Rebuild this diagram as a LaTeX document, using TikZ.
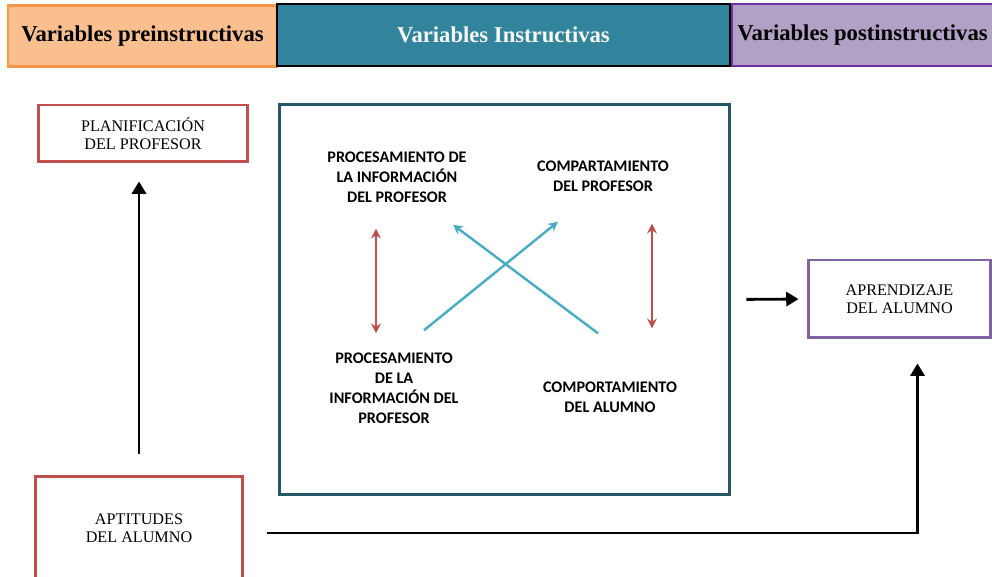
\documentclass[tikz,border=0pt]{standalone}
\usepackage{fontspec}
\setmainfont{Liberation Serif}
\newfontfamily\calib{Carlito}
\usetikzlibrary{positioning,arrows.meta}
\definecolor{prefill}{RGB}{250,191,143}
\definecolor{preline}{RGB}{247,150,70}
\definecolor{insfill}{RGB}{49,132,155}
\definecolor{postfill}{RGB}{178,161,199}
\definecolor{postline}{RGB}{112,48,160}
\definecolor{boxred}{RGB}{192,80,77}
\definecolor{boxpurple}{RGB}{128,100,162}
\definecolor{boxteal}{RGB}{37,88,103}
\definecolor{arrblue}{RGB}{75,172,198}

\begin{document}
\begin{tikzpicture}[ x = 0.02cm, y = -0.02cm, > = {Stealth[length=5.5pt,width=5.5pt]},
head/.style={ rectangle, draw, line width = 1.6pt, minimum height = 1.22cm, font = \fontsize{12.9}{15}\selectfont\bfseries },
box/.style={ rectangle, draw = boxred, line width = 1.7pt, align = center, font = \fontsize{9.2}{10.2}\selectfont },
inner/.style={ align = center, inner sep = 0pt, font = \calib\fontsize{9.2}{11.4}\selectfont\bfseries },
blk/.style={ -{Triangle[length=7pt,width=8pt]}, line width = 1.6pt },
redarr/.style={ <->, draw = boxred, line width = 1.1pt },
bluearr/.style={ ->, draw = arrblue, line width = 1.4pt }
]
\useasboundingbox (0,0) rectangle (992,577);
%header bar
\node (pre) at (142.5,36) [head, draw = preline, fill = prefill, minimum width = 5.38cm] {Variables preinstructivas};
\node (post) at (862.5,35) [head, draw = postline, fill = postfill, minimum width = 5.25cm, minimum height = 1.24cm] {Variables postinstructivas};
\node (ins) at (503.5,35) [head, draw = black, fill = insfill, text = white!94!gray, minimum width = 9.06cm, minimum height = 1.24cm] {Variables Instructivas};

%outer boxes
\node (plan) at (143,133.5) [box, minimum width = 4.2cm, minimum height = 1.14cm] {PLANIFICACIÓN\\DEL PROFESOR};
\node (apt) at (139,528) [box, minimum width = 4.16cm, minimum height = 2.08cm] {APTITUDES\\DEL ALUMNO};
\node (apr) at (899.5,299) [box, draw = boxpurple, minimum width = 3.66cm, minimum height = 1.56cm] {APRENDIZAJE\\DEL ALUMNO};
\node (central) at (504.5,299.5) [rectangle, draw = boxteal, line width = 1.7pt, minimum width = 9.02cm, minimum height = 7.82cm] {};

%inside the central box
\node (pp) at (397,177) [inner] {PROCESAMIENTO DE\\LA INFORMACIÓN\\DEL PROFESOR};
\node (cp) at (603,176) [inner] {COMPARTAMIENTO\\DEL PROFESOR};
\node (pa) at (394,388) [inner] {PROCESAMIENTO\\DE LA\\INFORMACIÓN DEL\\PROFESOR};
\node (ca) at (610,397) [inner] {COMPORTAMIENTO\\DEL ALUMNO};

\draw [redarr] ([shift={(-21,26)}]pp.south) -- ([shift={(-18,-19)}]pa.north);
\draw [redarr] ([shift={(49,32)}]cp.south) -- ([shift={(42,-53)}]ca.north);
\draw [bluearr] ([shift={(30,-22)}]pa.north) -- ([shift={(-45,30)}]cp.south);
\draw [bluearr] ([shift={(-12,-48)}]ca.north) -- ([shift={(56,22)}]pp.south);

%arrows between the boxes
\draw [blk, shorten <= 0.42cm, shorten >= 0.36cm] (apt.north) -- (apt.north |- plan.south);
\draw [blk, shorten <= 0.3cm, shorten >= 0.16cm] (central.east) -- (apr.west);
\draw [blk, shorten >= 0.48cm] ([shift={(23,5)}]apt.east) -| ([xshift=0.36cm]apr.south);
\end{tikzpicture}
\end{document}
